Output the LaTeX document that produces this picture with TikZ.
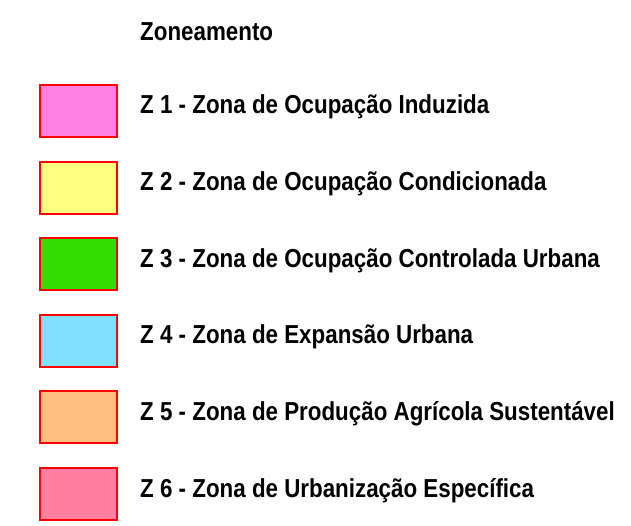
\documentclass[tikz,border=0pt]{standalone}
\usepackage{fontspec}
\setmainfont{Liberation Sans}[FakeStretch=0.86]
\definecolor{zA}{HTML}{FF80E0}
\definecolor{zB}{HTML}{FFFF80}
\definecolor{zC}{HTML}{33DD00}
\definecolor{zD}{HTML}{80E0FF}
\definecolor{zE}{HTML}{FFBF80}
\definecolor{zF}{HTML}{FF80A0}
\definecolor{zBorder}{HTML}{FF0000}
\begin{document}
\begin{tikzpicture}[x=1pt,y=-1pt,
  swatch/.style={draw=zBorder,line width=2pt,minimum width=77pt,minimum height=52pt,inner sep=0pt,anchor=north west},
  lbl/.style={anchor=base west,inner sep=0pt,font=\bfseries\fontsize{26}{28}\selectfont}]
\useasboundingbox (0,0) rectangle (631,526);
\node[lbl] (title) at (140,41) {Zoneamento};
\foreach \i/\c/\t in {0/zA/{Z 1 - Zona de Ocupação Induzida},
                      1/zB/{Z 2 - Zona de Ocupação Condicionada},
                      2/zC/{Z 3 - Zona de Ocupação Controlada Urbana},
                      3/zD/{Z 4 - Zona de Expansão Urbana},
                      4/zE/{Z 5 - Zona de Produção Agrícola Sustentável},
                      5/zF/{Z 6 - Zona de Urbanização Específica}}{
  \node[swatch,fill=\c] (box\i) at (39,84+76.6*\i) {};
  \node[lbl] (text\i) at (140,114+76.6*\i) {\t};
}
\end{tikzpicture}
\end{document}
